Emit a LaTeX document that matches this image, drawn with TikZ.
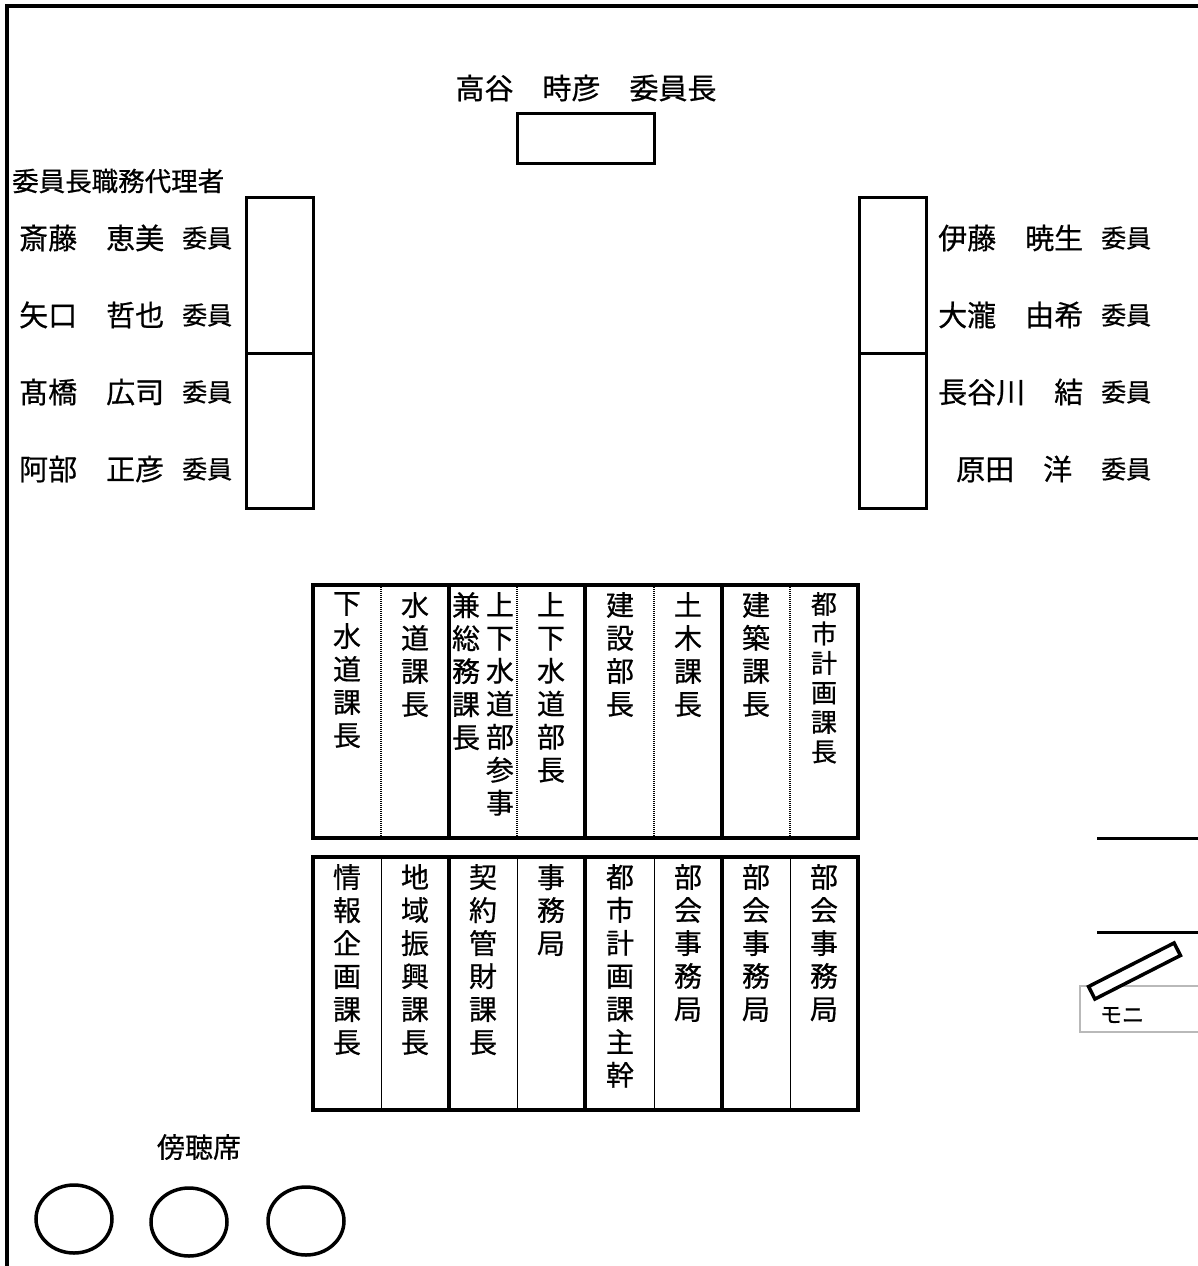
\documentclass[tikz,border=0pt]{standalone}
\usepackage{fontspec}
\usetikzlibrary{shapes.geometric}
\setmainfont{Noto Sans CJK JP}[FakeBold=0.6]
\begin{document}
\begin{tikzpicture}[x=1pt,y=-1pt,
  frame/.style={line width=4},
  desk/.style={draw, line width=3, inner sep=0},
  thickline/.style={line width=3.5},
  dotline/.style={line width=2.5, dash pattern=on 1.2pt off 0.8pt},
  thinline/.style={line width=1},
  bigname/.style={anchor=west, inner sep=0, font=\fontsize{29}{29}\selectfont},
  smallname/.style={anchor=west, inner sep=0, font=\fontsize{25}{25}\selectfont},
  vcol/.style={anchor=north, inner sep=0, align=center, font=\fontsize{28}{33}\selectfont},
  vcolt/.style={anchor=north, inner sep=0, align=center, font=\fontsize{26}{29.5}\selectfont},
  seat/.style={draw, line width=3.5, ellipse, minimum width=76, minimum height=68, inner sep=0}
]
\useasboundingbox (0,0) rectangle (1198,1266);
% frame
\draw[frame] (7,1266) -- (7,6) -- (1198,6);

% chair
\node[inner sep=0, font=\fontsize{29}{29}\selectfont] (chair) at (586,88) {高谷　時彦　委員長};
\node[desk, minimum width=137, minimum height=50] (chairdesk) at (585.5,138) {};

% left side
\node[anchor=west, inner sep=0, font=\fontsize{26.5}{26.5}\selectfont] (deputy) at (12,181) {委員長職務代理者};
\node[desk, minimum width=67, minimum height=156] (ldesk1) at (279.5,275) {};
\node[desk, minimum width=67, minimum height=155] (ldesk2) at (279.5,430.5) {};
\node[bigname] (n1) at (19,238) {斎藤　恵美};
\node[bigname] (n2) at (19,315) {矢口　哲也};
\node[bigname] (n3) at (19,392) {髙橋　広司};
\node[bigname] (n4) at (19,469) {阿部　正彦};
\node[smallname] (t1) at (182,238) {委員};
\node[smallname] (t2) at (182,315) {委員};
\node[smallname] (t3) at (182,392) {委員};
\node[smallname] (t4) at (182,469) {委員};

% right side
\node[desk, minimum width=67, minimum height=156] (rdesk1) at (892.5,275) {};
\node[desk, minimum width=67, minimum height=155] (rdesk2) at (892.5,430.5) {};
\node[bigname] (n5) at (938,238) {伊藤　暁生};
\node[bigname] (n6) at (938,315) {大瀧　由希};
\node[bigname] (n7) at (938,392) {長谷川　結};
\node[bigname] (n8) at (956,469) {原田　洋};
\node[smallname] (t5) at (1101,238) {委員};
\node[smallname] (t6) at (1101,315) {委員};
\node[smallname] (t7) at (1101,392) {委員};
\node[smallname] (t8) at (1101,469) {委員};

% staff table row 1
\draw[dotline] (381,585) -- (381,838);
\draw[dotline] (517,585) -- (517,838);
\draw[dotline] (654,585) -- (654,838);
\draw[dotline] (790,585) -- (790,838);
\draw[thickline] (449,585) -- (449,838);
\draw[thickline] (585,585) -- (585,838);
\draw[thickline] (722,585) -- (722,838);
\draw[thickline] (313,585) rectangle (858,838);
\node[vcol] (a1) at (347,592) {下\\水\\道\\課\\長};
\node[vcol] (a2) at (415,592) {水\\道\\課\\長};
\node[vcol] (a3a) at (466,592) {兼\\総\\務\\課\\長};
\node[vcol] (a3b) at (500,592) {上\\下\\水\\道\\部\\参\\事};
\node[vcol] (a4) at (551,592) {上\\下\\水\\道\\部\\長};
\node[vcol] (a5) at (620,592) {建\\設\\部\\長};
\node[vcol] (a6) at (688,592) {土\\木\\課\\長};
\node[vcol] (a7) at (756,592) {建\\築\\課\\長};
\node[vcolt] (a8) at (824,592) {都\\市\\計\\画\\課\\長};

% staff table row 2
\draw[thinline] (381,857) -- (381,1110);
\draw[thinline] (517,857) -- (517,1110);
\draw[thinline] (654,857) -- (654,1110);
\draw[thinline] (790,857) -- (790,1110);
\draw[thickline] (449,857) -- (449,1110);
\draw[thickline] (585,857) -- (585,1110);
\draw[thickline] (722,857) -- (722,1110);
\draw[thickline] (313,857) rectangle (858,1110);
\node[vcol] (b1) at (347,864) {情\\報\\企\\画\\課\\長};
\node[vcol] (b2) at (415,864) {地\\域\\振\\興\\課\\長};
\node[vcol] (b3) at (483,864) {契\\約\\管\\財\\課\\長};
\node[vcol] (b4) at (551,864) {事\\務\\局};
\node[vcol] (b5) at (620,864) {都\\市\\計\\画\\課\\主\\幹};
\node[vcol] (b6) at (688,864) {部\\会\\事\\務\\局};
\node[vcol] (b7) at (756,864) {部\\会\\事\\務\\局};
\node[vcol] (b8) at (824,864) {部\\会\\事\\務\\局};

% monitor area
\coordinate (w1a) at (1097,838);
\coordinate (w1b) at (1198,838);
\coordinate (w2a) at (1097,932);
\coordinate (w2b) at (1198,932);
\draw[line width=3] (w1a) -- (w1b);
\draw[line width=3] (w2a) -- (w2b);
\draw[gray!55, line width=1.5] (1198,986) -- (1080,986) -- (1080,1032) -- (1198,1032);
\node[inner sep=0, font=\fontsize{22}{22}\selectfont] (moni) at (1122,1015) {モニ};
\node[draw, line width=3.5, minimum width=96, minimum height=14, inner sep=0, rotate=27, fill=white] (monitor) at (1134.5,971) {};

% audience
\node[inner sep=0, font=\fontsize{28}{28}\selectfont] (audience) at (199,1147) {傍聴席};
\node[seat] (s1) at (74,1219) {};
\node[seat] (s2) at (189,1222) {};
\node[seat] (s3) at (306,1221) {};
\end{tikzpicture}
\end{document}
